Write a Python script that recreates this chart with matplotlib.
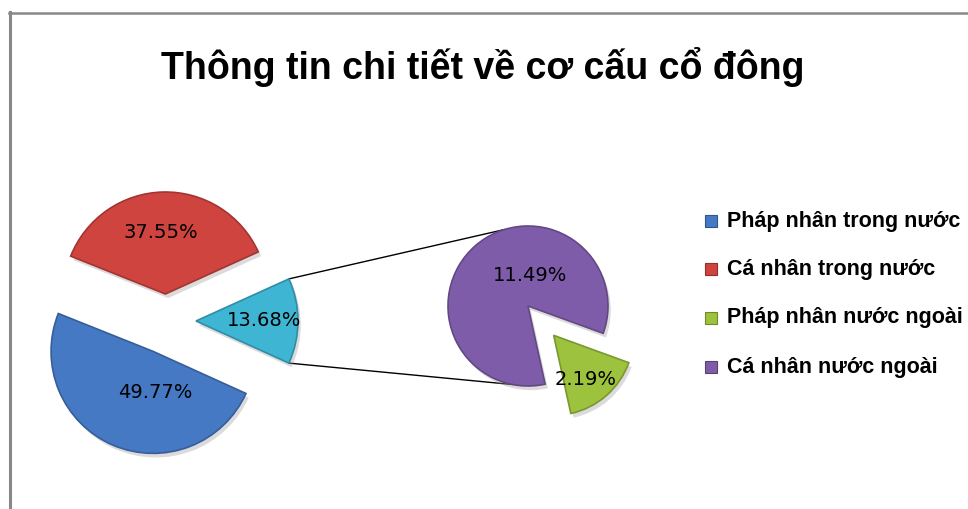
import numpy as np
import matplotlib
matplotlib.use("Agg")
import matplotlib.pyplot as plt
from matplotlib.lines import Line2D
from matplotlib.patches import Rectangle
import matplotlib.patheffects as pe

# ---- data ----
title = "Thông tin chi tiết về cơ cấu cổ đông"
categories = ["Pháp nhân trong nước", "Cá nhân trong nước",
              "Pháp nhân nước ngoài", "Cá nhân nước ngoài"]
values = [49.77, 37.55, 2.19, 11.49]
colors = ["#4579C4", "#CF443F", "#9DC23D", "#7F5CA9"]
other_color = "#3EB5D3"

W, H = 968, 509
fig = plt.figure(figsize=(W / 100, H / 100), dpi=100)
ax = fig.add_axes([0, 0, 1, 1])

def Y(y):  # image y (down) -> data y (up)
    return H - y

def darker(c, f=0.78):
    r, g, b = matplotlib.colors.to_rgb(c)
    return (r * f, g * f, b * f)

shadow = [pe.SimplePatchShadow(offset=(2, -3), shadow_rgbFace="#999999", alpha=0.35),
          pe.Normal()]

# ---- main pie: other, red, blue ----
other = values[2] + values[3]
main_vals = [other, values[1], values[0]]
main_cols = [other_color, colors[1], colors[0]]
main_lbls = [f"{v:.2f}%" for v in main_vals]
tot = sum(main_vals)
start = -other / tot * 360 / 2
mc = (166, Y(321))
mr = 102
mexp = [30, 27, 33]  # explode distances (data units = px)
wedges, _ = ax.pie(main_vals, colors=main_cols, startangle=start,
                   center=mc, radius=mr, explode=mexp,
                   wedgeprops=dict(linewidth=1.2), frame=True)
for w, c in zip(wedges, main_cols):
    w.set_edgecolor(darker(c))
    w.set_path_effects(shadow)
main_lbl_pos = [(0.67, 0), (0.6, 94), (0.4, -87)]
for w, lab, (d, a) in zip(wedges, main_lbls, main_lbl_pos):
    ang = np.deg2rad(a)
    cx, cy = w.center
    ax.text(cx + d * mr * np.cos(ang), cy + d * mr * np.sin(ang), lab,
            ha="center", va="center", fontsize=14, color="black",
            family="DejaVu Sans")

# ---- secondary pie: purple, green ----
sec_vals = [values[3], values[2]]
sec_cols = [colors[3], colors[2]]
sec_lbls = [f"{v:.2f}%" for v in sec_vals]
sc = (528, Y(306))
sr = 80
sw, _ = ax.pie(sec_vals, colors=sec_cols, startangle=-20,
               center=sc, radius=sr, explode=[0, 39],
               wedgeprops=dict(linewidth=1.2), frame=True)
for w, c in zip(sw, sec_cols):
    w.set_edgecolor(darker(c))
    w.set_path_effects(shadow)
sec_lbl_pos = [(0.38, 86), (0.68, -54)]
for w, lab, (d, a) in zip(sw, sec_lbls, sec_lbl_pos):
    ang = np.deg2rad(a)
    cx, cy = w.center
    ax.text(cx + d * sr * np.cos(ang), cy + d * sr * np.sin(ang), lab,
            ha="center", va="center", fontsize=14, color="black",
            family="DejaVu Sans")

# ---- connector lines ----
ow = wedges[0]
ocx, ocy = ow.center
p_top = (ocx + mr * np.cos(np.deg2rad(ow.theta2)), ocy + mr * np.sin(np.deg2rad(ow.theta2)))
p_bot = (ocx + mr * np.cos(np.deg2rad(ow.theta1)), ocy + mr * np.sin(np.deg2rad(ow.theta1)))
q_top = (sc[0] + sr * np.cos(np.deg2rad(107)), sc[1] + sr * np.sin(np.deg2rad(107)))
q_bot = (sc[0] + sr * np.cos(np.deg2rad(-101)), sc[1] + sr * np.sin(np.deg2rad(-101)))
for p, q in [(p_top, q_top), (p_bot, q_bot)]:
    ax.add_line(Line2D([p[0], q[0]], [p[1], q[1]], color="black", lw=1, zorder=0))

# restore limits after pie(frame=True)
ax.set_xlim(0, W)
ax.set_ylim(0, H)
ax.set_aspect("equal")
ax.axis("off")

# ---- title ----
ax.text(483, Y(67), title, ha="center", va="center", fontsize=27,
        fontweight="bold", family="Liberation Sans")

# ---- legend ----
leg_y = [221, 269, 318, 367]
for cat, col, yy in zip(categories, colors, leg_y):
    ax.add_patch(Rectangle((705, Y(yy) - 6), 12, 12, facecolor=col,
                           edgecolor=darker(col, 0.7), lw=0.8, clip_on=False))
    ax.text(727, Y(yy), cat, ha="left", va="center", fontsize=15.5,
            fontweight="bold", family="Liberation Sans", color="black")

# ---- frame ----
ax.add_line(Line2D([10, 10], [Y(12), Y(509)], color="#888888", lw=2.2))
ax.add_line(Line2D([9, W], [Y(12.5), Y(12.5)], color="#888888", lw=1.8))

fig.savefig("out.png", dpi=100)
